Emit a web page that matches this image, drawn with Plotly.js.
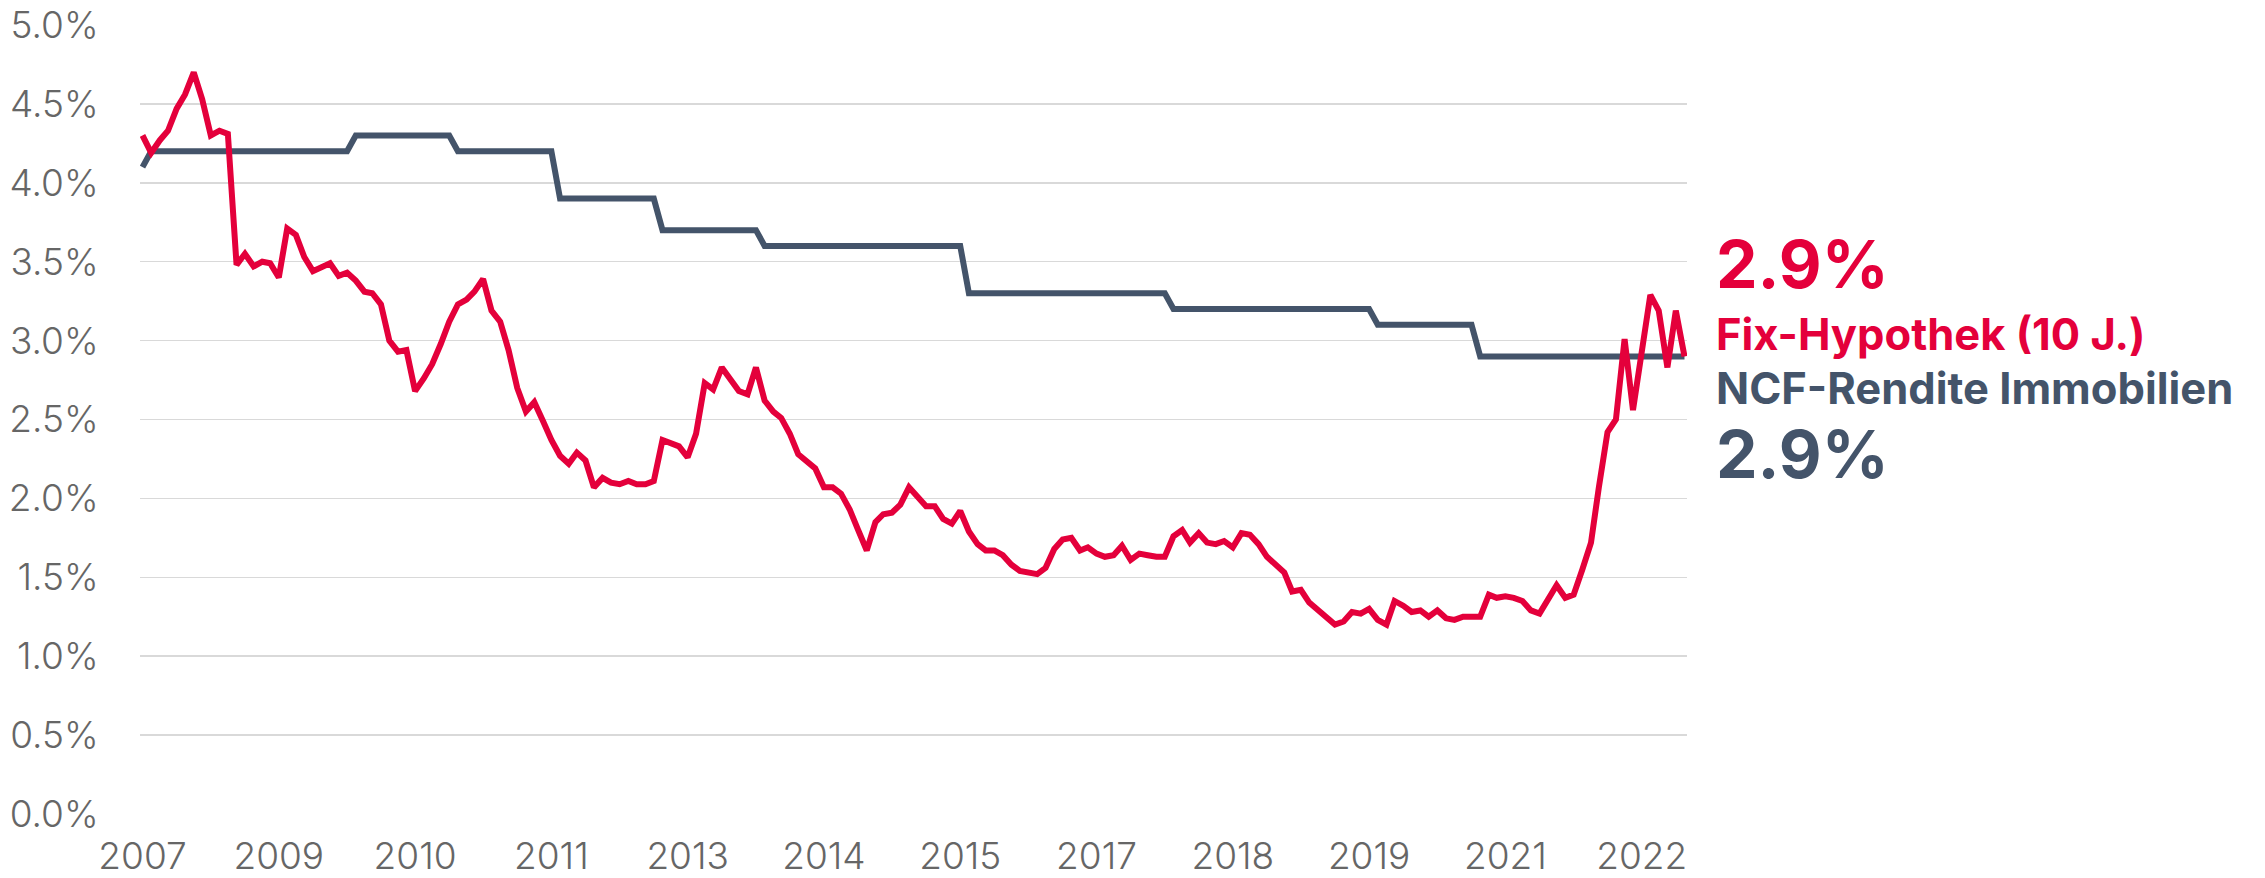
<!DOCTYPE html>
<html>
<head>
<meta charset="utf-8">
<script src="https://cdn.plot.ly/plotly-3.0.1.min.js"></script>
<style>
  html, body { margin: 0; padding: 0; background: #ffffff; }
  #chart { width: 2265px; height: 878px; }
</style>
</head>
<body>
<div id="chart"></div>
<script>
// ---- data (monthly, first point = December 2007, last point = January 2023) ----
const firstYear = 2007;
const firstMonth = 12;

// Fix-Hypothek (10 J.), in %
const fixHypothek = [
  4.30,
  4.19, 4.27, 4.33, 4.47, 4.56, 4.70, 4.53, 4.30, 4.33, 4.31, 3.48, 3.55,
  3.47, 3.50, 3.49, 3.40, 3.71, 3.67, 3.53, 3.44, 3.47, 3.49, 3.41, 3.43,
  3.38, 3.31, 3.30, 3.23, 3.00, 2.93, 2.94, 2.68, 2.76, 2.85, 2.98, 3.12,
  3.23, 3.26, 3.31, 3.39, 3.19, 3.12, 2.94, 2.70, 2.55, 2.61, 2.49, 2.37,
  2.27, 2.22, 2.29, 2.24, 2.07, 2.13, 2.10, 2.09, 2.11, 2.09, 2.09, 2.11,
  2.37, 2.35, 2.33, 2.26, 2.41, 2.73, 2.69, 2.83, 2.76, 2.68, 2.66, 2.83,
  2.62, 2.55, 2.51, 2.41, 2.28, 2.24, 2.19, 2.07, 2.07, 2.03, 1.93, 1.80,
  1.67, 1.85, 1.90, 1.91, 1.96, 2.07, 2.01, 1.95, 1.95, 1.87, 1.84, 1.92,
  1.79, 1.71, 1.67, 1.67, 1.64, 1.58, 1.54, 1.53, 1.52, 1.56, 1.68, 1.74,
  1.75, 1.67, 1.69, 1.65, 1.63, 1.64, 1.70, 1.61, 1.65, 1.64, 1.63, 1.63,
  1.76, 1.80, 1.72, 1.78, 1.72, 1.71, 1.73, 1.69, 1.78, 1.77, 1.71, 1.63,
  1.58, 1.53, 1.41, 1.42, 1.34, 1.29, 1.25, 1.20, 1.22, 1.28, 1.27, 1.30,
  1.23, 1.20, 1.35, 1.32, 1.28, 1.29, 1.25, 1.29, 1.24, 1.23, 1.25, 1.25,
  1.25, 1.39, 1.37, 1.38, 1.37, 1.35, 1.29, 1.27, 1.37, 1.45, 1.37, 1.39,
  1.55, 1.72, 2.07, 2.42, 2.50, 3.01, 2.56, 2.93, 3.29, 3.19, 2.83, 3.19,
  2.90
];

// NCF-Rendite Immobilien, in %
const ncfRendite = [
  4.1,
  4.2, 4.2, 4.2, 4.2, 4.2, 4.2, 4.2, 4.2, 4.2, 4.2, 4.2, 4.2,
  4.2, 4.2, 4.2, 4.2, 4.2, 4.2, 4.2, 4.2, 4.2, 4.2, 4.2, 4.2,
  4.3, 4.3, 4.3, 4.3, 4.3, 4.3, 4.3, 4.3, 4.3, 4.3, 4.3, 4.3,
  4.2, 4.2, 4.2, 4.2, 4.2, 4.2, 4.2, 4.2, 4.2, 4.2, 4.2, 4.2,
  3.9, 3.9, 3.9, 3.9, 3.9, 3.9, 3.9, 3.9, 3.9, 3.9, 3.9, 3.9,
  3.7, 3.7, 3.7, 3.7, 3.7, 3.7, 3.7, 3.7, 3.7, 3.7, 3.7, 3.7,
  3.6, 3.6, 3.6, 3.6, 3.6, 3.6, 3.6, 3.6, 3.6, 3.6, 3.6, 3.6,
  3.6, 3.6, 3.6, 3.6, 3.6, 3.6, 3.6, 3.6, 3.6, 3.6, 3.6, 3.6,
  3.3, 3.3, 3.3, 3.3, 3.3, 3.3, 3.3, 3.3, 3.3, 3.3, 3.3, 3.3,
  3.3, 3.3, 3.3, 3.3, 3.3, 3.3, 3.3, 3.3, 3.3, 3.3, 3.3, 3.3,
  3.2, 3.2, 3.2, 3.2, 3.2, 3.2, 3.2, 3.2, 3.2, 3.2, 3.2, 3.2,
  3.2, 3.2, 3.2, 3.2, 3.2, 3.2, 3.2, 3.2, 3.2, 3.2, 3.2, 3.2,
  3.1, 3.1, 3.1, 3.1, 3.1, 3.1, 3.1, 3.1, 3.1, 3.1, 3.1, 3.1,
  2.9, 2.9, 2.9, 2.9, 2.9, 2.9, 2.9, 2.9, 2.9, 2.9, 2.9, 2.9,
  2.9, 2.9, 2.9, 2.9, 2.9, 2.9, 2.9, 2.9, 2.9, 2.9, 2.9, 2.9,
  2.9
];

// x-axis ticks (every 16 months, labelled with the year)
const tickDates  = ['2007-12-01', '2009-04-01', '2010-08-01', '2011-12-01', '2013-04-01', '2014-08-01',
                    '2015-12-01', '2017-04-01', '2018-08-01', '2019-12-01', '2021-04-01', '2022-08-01'];
const tickLabels = ['2007', '2009', '2010', '2011', '2013', '2014', '2015', '2017', '2018', '2019', '2021', '2022'];

const seriesNames = ['Fix-Hypothek (10 J.)', 'NCF-Rendite Immobilien'];
const latestFix = '2.9%';
const latestNcf = '2.9%';

// ---- build month dates ----
const months = [];
for (let i = 0; i < fixHypothek.length; i++) {
  const total = (firstMonth - 1) + i;
  const y = firstYear + Math.floor(total / 12);
  const m = (total % 12) + 1;
  months.push(y + '-' + String(m).padStart(2, '0') + '-01');
}

const RED = '#E4003B';
const NAVY = '#44546A';
const GREY = '#666666';

const traces = [
  { x: months, y: ncfRendite, type: 'scatter', mode: 'lines', name: seriesNames[1],
    line: { color: NAVY, width: 6, shape: 'linear' }, hoverinfo: 'skip' },
  { x: months, y: fixHypothek, type: 'scatter', mode: 'lines', name: seriesNames[0],
    line: { color: RED, width: 6, shape: 'linear' }, hoverinfo: 'skip' }
];

const L = 140, R = 578, T = 24.5, B = 63.5;
const W = 2265, H = 878;
const pw = W - L - R, ph = H - T - B;
const px = v => (v - L) / pw;
const py = v => (H - B - v) / ph;

const annFont = (size, color) => ({ family: 'Inter, "DejaVu Sans", sans-serif', size: size, color: color, weight: 700 });

const layout = {
  width: W, height: H,
  margin: { l: L, r: R, t: T, b: B, pad: 0 },
  paper_bgcolor: '#ffffff', plot_bgcolor: '#ffffff',
  showlegend: false,
  font: { family: 'Inter, sans-serif', color: GREY },
  xaxis: {
    type: 'date',
    range: ['2007-11-22', '2023-01-10'],
    tickmode: 'array', tickvals: tickDates, ticktext: tickLabels,
    showgrid: false, zeroline: false, showline: false,
    ticks: 'outside', ticklen: 10, tickcolor: 'rgba(0,0,0,0)',
    tickfont: { family: 'Inter, sans-serif', size: 37, color: GREY, weight: 300 },
    automargin: false, fixedrange: true
  },
  yaxis: {
    range: [0, 5], tick0: 0, dtick: 0.5, tickformat: '.1f', ticksuffix: '%',
    showgrid: true, gridcolor: '#d9d9d9', gridwidth: 1.5,
    zeroline: false, showline: false,
    ticks: 'outside', ticklen: 33, tickcolor: 'rgba(0,0,0,0)',
    tickfont: { family: 'Inter, sans-serif', size: 37, color: GREY, weight: 300 },
    automargin: false, fixedrange: true
  },
  annotations: [
    { xref: 'paper', yref: 'paper', x: px(1714), y: py(264), xanchor: 'left', yanchor: 'middle',
      text: latestFix, showarrow: false, font: annFont(66, RED) },
    { xref: 'paper', yref: 'paper', x: px(1714), y: py(334), xanchor: 'left', yanchor: 'middle',
      text: seriesNames[0], showarrow: false, font: annFont(43.5, RED) },
    { xref: 'paper', yref: 'paper', x: px(1714), y: py(388), xanchor: 'left', yanchor: 'middle',
      text: seriesNames[1], showarrow: false, font: annFont(43.5, NAVY) },
    { xref: 'paper', yref: 'paper', x: px(1714), y: py(454), xanchor: 'left', yanchor: 'middle',
      text: latestNcf, showarrow: false, font: annFont(66, NAVY) }
  ]
};

Plotly.newPlot('chart', traces, layout, { displayModeBar: false, staticPlot: true });
</script>
</body>
</html>
